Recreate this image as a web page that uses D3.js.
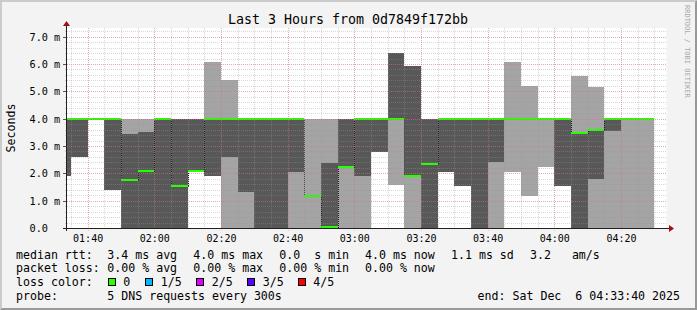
<!DOCTYPE html>
<html><head><meta charset="utf-8">
<script src="https://cdn.jsdelivr.net/npm/d3@7"></script>
<style>
html,body{margin:0;padding:0;background:#f3f3f3;}
svg{display:block;}
text{font-family:"DejaVu Sans Mono",monospace;fill:#000;}
</style></head><body>
<svg id="c" width="697" height="310"></svg>
<script>
// ---- data (values in ms) ----
const barStarts = ["01:30","01:35","01:40","01:45","01:50","01:55","02:00","02:05","02:10","02:15",
  "02:20","02:25","02:30","02:35","02:40","02:45","02:50","02:55","03:00","03:05",
  "03:10","03:15","03:20","03:25","03:30","03:35","03:40","03:45","03:50","03:55",
  "04:00","04:05","04:10","04:15","04:20","04:25"];
const ping1 = [1.9,2.6,4,1.39,0,0,0,0,2.1,1.9,0,0,0,0,0,0,0,0,0,2.79,1.57,0,0,2.05,1.55,0,0,2.05,1.18,2.23,1.55,0,0,0,0,0];
const ping2 = [1.9,2.6,4,1.39,0,0,0,0,2.1,1.9,2.6,1.33,0,0,2.05,1.18,0,2.23,1.9,2.79,4,1.9,0,2.05,1.55,0,2.43,4,4,4,1.55,0,1.8,3.55,4,4];
const median = [4,4,4,4,1.76,2.1,4,1.52,2.1,4,4,4,4,4,4,1.18,0.04,2.23,4,4,4,1.9,2.33,4,4,4,4,4,4,4,4,3.49,3.6,4,4,4];
const ping4 = [4,4,4,4,3.44,3.51,4,4,4,4,4,4,4,4,4,1.18,2.38,4,4,4,6.4,5.93,4,4,4,4,4,4,4,4,4,3.49,3.6,4,4,4];
const ping5 = [4,4,4,4,4,4,4,4,4,6.07,5.41,4,4,4,4,4,4,4,4,4,6.4,5.93,4,4,4,4,4,6.07,5.2,4,4,5.56,5.16,4,4,4];
const yTicks = [0,1,2,3,4,5,6,7];
const yTickLabels = ["0.0","1.0 m","2.0 m","3.0 m","4.0 m","5.0 m","6.0 m","7.0 m"];
const timeStart = "01:33:40", timeEnd = "04:33:40";
const title = "Last 3 Hours from 0d7849f172bb";
const yLabel = "Seconds";
const legendLine1 = ["median rtt:","3.4 ms avg","4.0 ms max","0.0  s min","4.0 ms now","1.1 ms sd","3.2   am/s"];
const legendLine2 = ["packet loss:","0.00 % avg","0.00 % max","0.00 % min","0.00 % now"];
const lossLabels = ["0","1/5","2/5","3/5","4/5"];
const lossColors = ["#26ff00","#00b8ff","#dd00ff","#5e00ff","#ff0000"];
const probeText = ["probe:","5 DNS requests every 300s"];
const endText = "end: Sat Dec  6 04:33:40 2025";
const watermark = "RRDTOOL / TOBI OETIKER";

// ---- setup ----
const parse = s => { const p = s.split(":").map(Number); return new Date(2025,11,6,p[0],p[1],p[2]||0); };
const t0 = parse(timeStart), t1 = parse(timeEnd);
const X0 = 66.5, X1 = 666.5, Y0 = 228, Y1 = 28;
const x = d3.scaleTime().domain([t0,t1]).range([X0,X1]);
const y = d3.scaleLinear().domain([0, 200/27.33]).range([Y0,Y1]);
const bars = barStarts.map((s,i)=>({t:parse(s), e:d3.timeMinute.offset(parse(s),5), p1:ping1[i],p2:ping2[i],m:median[i],p4:ping4[i],p5:ping5[i]}));

const svg = d3.select("#c");
svg.append("rect").attr("width",697).attr("height",310).attr("fill","#f3f3f3");
svg.append("path").attr("d","M0,0H697L695,2H2V308L0,310Z").attr("fill","#cbcbcb");
svg.append("path").attr("d","M697,0V310H0L2,308H695V2Z").attr("fill","#999999");

svg.append("clipPath").attr("id","cp").append("rect").attr("x",X0).attr("y",Y1).attr("width",X1-X0).attr("height",Y0-Y1);
svg.append("rect").attr("x",X0).attr("y",Y1).attr("width",X1-X0).attr("height",Y0-Y1).attr("fill","#ffffff");

const plot = svg.append("g").attr("clip-path","url(#cp)");
// smoke: outer pair light, inner pair dark
plot.append("g").attr("shape-rendering","crispEdges").selectAll("rect").data(bars).join("rect")
  .attr("x",d=>x(d.t)).attr("width",d=>x(d.e)-x(d.t))
  .attr("y",d=>y(d.p5)).attr("height",d=>y(d.p1)-y(d.p5)).attr("fill","#a4a4a4");
plot.append("g").attr("shape-rendering","crispEdges").selectAll("rect").data(bars).join("rect")
  .attr("x",d=>x(d.t)).attr("width",d=>x(d.e)-x(d.t))
  .attr("y",d=>y(d.p4)).attr("height",d=>y(d.p2)-y(d.p4)).attr("fill","#585858");

// grid
const gGrid = svg.append("g").attr("shape-rendering","crispEdges");
const minorCol = "rgba(150,150,150,0.38)", majorCol = "rgba(235,100,100,0.34)";
const minorY = d3.range(0, 7.3, 0.2);
const px = v => Math.round(v)+0.5;
gGrid.selectAll("line.my").data(minorY).join("line")
  .attr("x1",X0-2).attr("x2",X1).attr("y1",d=>px(y(d))).attr("y2",d=>px(y(d)))
  .attr("stroke",minorCol).attr("stroke-dasharray","1,1");
const minorX = d3.timeMinute.every(5).range(t0,t1);
gGrid.selectAll("line.mx").data(minorX).join("line")
  .attr("x1",d=>px(x(d))).attr("x2",d=>px(x(d))).attr("y1",Y1).attr("y2",Y0+2)
  .attr("stroke",minorCol).attr("stroke-dasharray","1,1");
gGrid.selectAll("line.My").data(yTicks).join("line")
  .attr("x1",X0-2).attr("x2",X1).attr("y1",d=>px(y(d))).attr("y2",d=>px(y(d)))
  .attr("stroke",majorCol).attr("stroke-dasharray","1,1");
const majorX = x.ticks(d3.timeMinute.every(20));
gGrid.selectAll("line.Mx").data(majorX).join("line")
  .attr("x1",d=>px(x(d))).attr("x2",d=>px(x(d))).attr("y1",Y1).attr("y2",Y0+3)
  .attr("stroke",majorCol).attr("stroke-dasharray","1,1");

// median line (dotted dark step line) and loss-coloured bands
const medPts = bars.map(d=>[d.t,d.m]).concat([[bars[bars.length-1].e, bars[bars.length-1].m]]);
plot.append("path").attr("d", d3.line().x(d=>px(x(d[0]))).y(d=>px(y(d[1]))).curve(d3.curveStepAfter)(medPts))
  .attr("fill","none").attr("stroke","#202020").attr("stroke-width",1).attr("stroke-dasharray","1,1").attr("shape-rendering","crispEdges");
plot.append("g").attr("shape-rendering","crispEdges").selectAll("rect").data(bars).join("rect")
  .attr("x",d=>x(d.t)).attr("width",d=>x(d.e)-x(d.t))
  .attr("y",d=>Math.round(y(d.m))-1).attr("height",2).attr("fill",lossColors[0]);

// axes
const yAxis = d3.axisLeft(y).tickValues(yTicks).tickFormat((d,i)=>yTickLabels[i]).tickSize(4).tickPadding(0);
const ga = svg.append("g").attr("transform",`translate(${X0},0)`).call(yAxis);
ga.select(".domain").remove();
ga.selectAll(".tick line").attr("stroke","#555").attr("shape-rendering","crispEdges");
ga.selectAll(".tick text").attr("text-anchor","start").attr("x",29.5-X0).attr("dy","0.33em")
  .style("font-family","DejaVu Sans Mono").style("font-size","10.2px");
const xAxis = d3.axisBottom(x).tickValues(majorX).tickFormat(d3.timeFormat("%H:%M")).tickSize(0).tickPadding(0);
const gx = svg.append("g").attr("transform",`translate(0,${Y0})`).call(xAxis);
gx.select(".domain").remove();
gx.selectAll(".tick text").attr("dy",0).attr("y",14).style("font-family","DejaVu Sans Mono").style("font-size","10px");

svg.append("line").attr("x1",62.5).attr("x2",669).attr("y1",228.5).attr("y2",228.5).attr("stroke","#202020").attr("shape-rendering","crispEdges");
svg.append("line").attr("x1",66.5).attr("x2",66.5).attr("y1",231).attr("y2",25).attr("stroke","#202020").attr("shape-rendering","crispEdges");
svg.append("path").attr("d","M669,225L674,228.5L669,232Z").attr("fill","#a01010");
svg.append("path").attr("d","M63,26L66.5,21L70,26Z").attr("fill","#a01010");

// texts
svg.append("text").attr("x",348).attr("y",24).attr("text-anchor","middle").style("font-size","13.3px").text(title);
svg.append("text").attr("transform","translate(15,128) rotate(-90)").attr("text-anchor","middle").style("font-size","11.6px").text(yLabel);
svg.append("text").attr("transform","translate(684.5,5) rotate(90)").style("font-size","7px").style("fill","#a8a8a8").text(watermark);

const lg = svg.append("g").style("font-size","11.6px").style("white-space","pre");
const l1x = [16,107.3,193.3,279.3,365,451,530];
legendLine1.forEach((s,i)=>lg.append("text").attr("x",l1x[i]).attr("y",258.5).attr("xml:space","preserve").text(s));
legendLine2.forEach((s,i)=>lg.append("text").attr("x",l1x[i]).attr("y",272.4).attr("xml:space","preserve").text(s));
lg.append("text").attr("x",16).attr("y",286.3).text("loss color:");
const boxX = [108.5,145.8,196.8,247.5,298.5], labX = [123.3,160.7,211.7,262.7,313.3];
lossLabels.forEach((s,i)=>{
  lg.append("rect").attr("x",boxX[i]).attr("y",278.5).attr("width",7).attr("height",7).attr("fill",lossColors[i]).attr("stroke","#000").attr("shape-rendering","crispEdges");
  lg.append("text").attr("x",labX[i]).attr("y",286.3).text(s);
});
lg.append("text").attr("x",16).attr("y",300.2).text(probeText[0]);
lg.append("text").attr("x",107.3).attr("y",300.2).text(probeText[1]);
lg.append("text").attr("x",680).attr("y",300.2).attr("text-anchor","end").attr("xml:space","preserve").text(endText);
</script>
</body></html>
